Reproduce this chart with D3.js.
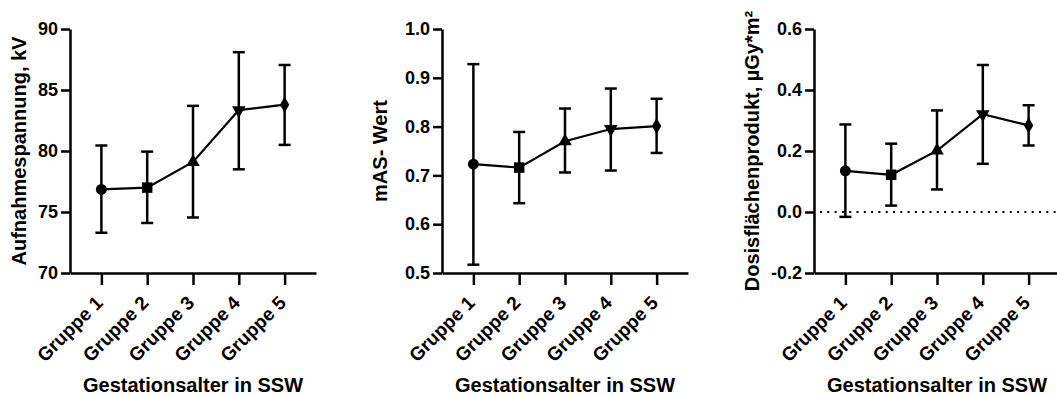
<!DOCTYPE html>
<html>
<head>
<meta charset="utf-8">
<script src="https://cdn.jsdelivr.net/npm/d3@7"></script>
<style>
  body { margin: 0; background: #fff; }
  svg { display: block; font-family: "Liberation Sans", Arial, sans-serif; font-weight: bold; }
</style>
</head>
<body>
<svg width="1057" height="397"></svg>
<script>
// categories
const groups = ["Gruppe 1", "Gruppe 2", "Gruppe 3", "Gruppe 4", "Gruppe 5"];
const symbols = [d3.symbolCircle, d3.symbolSquare, d3.symbolTriangle, d3.symbolTriangle, d3.symbolDiamond];

// Aufnahmespannung, kV  (mean, upper, lower)
const kvMean = [76.85, 77.0, 79.1, 83.35, 83.8];
const kvHigh = [80.45, 79.95, 83.7, 88.1, 87.05];
const kvLow  = [73.3, 74.1, 74.55, 78.5, 80.5];
const kvTicks = [70, 75, 80, 85, 90];

// mAS- Wert
const masMean = [0.723, 0.716, 0.770, 0.795, 0.801];
const masHigh = [0.928, 0.789, 0.837, 0.878, 0.857];
const masLow  = [0.517, 0.643, 0.706, 0.710, 0.746];
const masTicks = [0.5, 0.6, 0.7, 0.8, 0.9, 1.0];

// Dosisflächenprodukt
const dfpMean = [0.135, 0.122, 0.201, 0.321, 0.284];
const dfpHigh = [0.287, 0.224, 0.333, 0.482, 0.350];
const dfpLow  = [-0.016, 0.021, 0.074, 0.158, 0.218];
const dfpTicks = [-0.2, 0.0, 0.2, 0.4, 0.6];

const xTitle = "Gestationsalter in SSW";

const panels = [
  {left: 70,  title: "Aufnahmespannung, kV", titleX: -44, mean: kvMean, hi: kvHigh, lo: kvLow, ticks: kvTicks, fmt: d3.format("d"), zero: false},
  {left: 442, title: "mAS- Wert", titleX: -55, mean: masMean, hi: masHigh, lo: masLow, ticks: masTicks, fmt: d3.format(".1f"), zero: false},
  {left: 814, title: "Dosisflächenprodukt, µGy*m²", titleX: -55, mean: dfpMean, hi: dfpHigh, lo: dfpLow, ticks: dfpTicks, fmt: d3.format(".1f"), zero: true}
];

const plotTop = 29, plotBottom = 273, plotW = 246;
const svg = d3.select("svg");

panels.forEach(p => {
  const g = svg.append("g");
  const x = d3.scalePoint(groups, [p.left, p.left + plotW]).padding(0.685);
  const y = d3.scaleLinear([p.ticks[0], p.ticks[p.ticks.length - 1]], [plotBottom, plotTop]);
  const fmt = v => p.fmt(v).replace("−", "-");

  // y axis
  const ya = g.append("g")
      .attr("transform", `translate(${p.left},0)`)
      .call(d3.axisLeft(y).tickValues(p.ticks).tickFormat(fmt).tickSize(9).tickSizeOuter(0).tickPadding(3));

  // x axis
  const xa = g.append("g")
      .attr("transform", `translate(0,${plotBottom})`)
      .call(d3.axisBottom(x).tickSize(12).tickSizeOuter(0));

  [ya, xa].forEach(a => {
    a.attr("font-family", null).attr("font-size", null);
    a.select(".domain").attr("stroke-width", 2.5);
    a.selectAll(".tick line").attr("stroke-width", 2.5);
    a.selectAll("text").attr("font-weight", "bold").attr("fill", "#000");
  });
  ya.selectAll("text").attr("font-size", 18);

  xa.selectAll(".tick text")
      .attr("font-size", 19)
      .attr("text-anchor", "end")
      .attr("dy", 0)
      .attr("y", 0)
      .attr("transform", "translate(2,31) rotate(-45)");

  if (p.zero) {
    g.append("line")
        .attr("x1", p.left + 6).attr("x2", 1057)
        .attr("y1", y(0)).attr("y2", y(0))
        .attr("stroke", "#000").attr("stroke-width", 2)
        .attr("stroke-dasharray", "2,5.3");
  }

  // error bars
  const eb = g.append("g").attr("stroke", "#000").attr("stroke-width", 2.5).attr("fill", "none");
  groups.forEach((c, i) => {
    const cx = x(c);
    eb.append("line").attr("x1", cx).attr("x2", cx).attr("y1", y(p.hi[i])).attr("y2", y(p.lo[i]));
    eb.append("line").attr("x1", cx - 6).attr("x2", cx + 6).attr("y1", y(p.hi[i])).attr("y2", y(p.hi[i]));
    eb.append("line").attr("x1", cx - 6).attr("x2", cx + 6).attr("y1", y(p.lo[i])).attr("y2", y(p.lo[i]));
  });

  // mean line
  g.append("path")
      .datum(p.mean)
      .attr("fill", "none")
      .attr("stroke", "#000")
      .attr("stroke-width", 2.2)
      .attr("d", d3.line((d, i) => x(groups[i]), d => y(d)));

  // markers
  g.append("g").selectAll("path")
      .data(p.mean)
      .join("path")
      .attr("transform", (d, i) => `translate(${x(groups[i])},${y(d)})${i === 3 ? " rotate(180)" : ""}`)
      .attr("d", (d, i) => d3.symbol(symbols[i], [95, 110, 80, 80, 75][i])())
      .attr("fill", "#000");

  // titles
  g.append("text")
      .attr("transform", `translate(${p.left + p.titleX},${(plotTop + plotBottom) / 2}) rotate(-90)`)
      .attr("text-anchor", "middle")
      .attr("font-size", 20)
      .text(p.title);

  g.append("text")
      .attr("x", x(groups[2]))
      .attr("y", 392)
      .attr("text-anchor", "middle")
      .attr("font-size", 20)
      .text(xTitle);
});
</script>
</body>
</html>
